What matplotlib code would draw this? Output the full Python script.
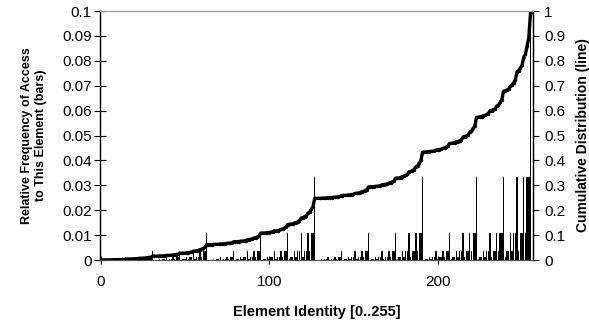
import numpy as np
import matplotlib
matplotlib.use("Agg")
import matplotlib.pyplot as plt

plt.rcParams['font.family'] = ['Liberation Sans', 'DejaVu Sans']

# frequency level for each "level" digit below
level_freq = [0.000015, 0.000046, 0.00014, 0.0004, 0.0012, 0.0037, 0.011, 0.0335, 0.1001]

# level of each element 0..255, 16 elements per row
element_levels = [
    "0112122312232334",
    "1223233423343445",
    "1223233423343445",
    "2334344534454556",
    "1223233423343445",
    "2334344534454556",
    "2334344534454556",
    "3445455645565667",
    "1223233423343445",
    "2334344534454556",
    "2334344534454556",
    "3445455645565667",
    "2334344534454556",
    "3445455645565667",
    "3445455645565667",
    "4556566756676778",
]

freq = np.array([level_freq[int(c)] for row in element_levels for c in row])
elements = np.arange(len(freq))
cumulative = np.cumsum(freq)

x_ticks = [0, 100, 200]
left_ticks = [0, 0.01, 0.02, 0.03, 0.04, 0.05, 0.06, 0.07, 0.08, 0.09, 0.1]
left_labels = ["0", "0.01", "0.02", "0.03", "0.04", "0.05", "0.06", "0.07", "0.08", "0.09", "0.1"]
right_ticks = [0, 0.1, 0.2, 0.3, 0.4, 0.5, 0.6, 0.7, 0.8, 0.9, 1]
right_labels = ["0", "0.1", "0.2", "0.3", "0.4", "0.5", "0.6", "0.7", "0.8", "0.9", "1"]

fig = plt.figure(figsize=(5.89, 3.24), dpi=100)
ax = fig.add_axes([0.1698, 0.1975, 0.7352, 0.7685])
ax2 = ax.twinx()

ax.bar(elements, freq, width=0.8, color='black', linewidth=0)
ax2.plot(elements, cumulative, '-', color='black', lw=2.4,
         marker='o', ms=2.4, markeredgewidth=0)

ax.set_xlim(-0.3, 256.5)
ax.set_ylim(0, 0.1)
ax2.set_ylim(0, 1)

ax.set_xticks(x_ticks)
ax.set_yticks(left_ticks)
ax.set_yticklabels(left_labels)
ax2.set_yticks(right_ticks)
ax2.set_yticklabels(right_labels)

ax.tick_params(axis='x', direction='inout', length=6, width=0.8, labelsize=11, pad=8)
ax.tick_params(axis='y', direction='inout', length=8, width=0.8, labelsize=11, pad=2)
ax2.tick_params(axis='y', direction='out', length=4, width=0.8, labelsize=11, pad=4)

for a in (ax, ax2):
    a.spines['top'].set_color('#999999')
    a.spines['top'].set_linewidth(0.8)
    a.spines['left'].set_linewidth(0.9)
    a.spines['right'].set_linewidth(0.9)
    a.spines['bottom'].set_color('#555555')
    a.spines['bottom'].set_linewidth(0.8)

ax.set_xlabel("Element Identity [0..255]", fontsize=10.5, fontweight='bold')
ax.xaxis.set_label_coords(0.5, -0.18)
ax.set_ylabel("Relative Frequency of Access\nto This Element (bars)", fontsize=9,
              fontweight='bold', linespacing=1.25)
ax.yaxis.set_label_coords(-0.122, 0.5)
ax2.set_ylabel("Cumulative Distribution (line)", fontsize=10, fontweight='bold')
ax2.yaxis.set_label_coords(1.1, 0.5)

fig.savefig("out.png", dpi=100)
